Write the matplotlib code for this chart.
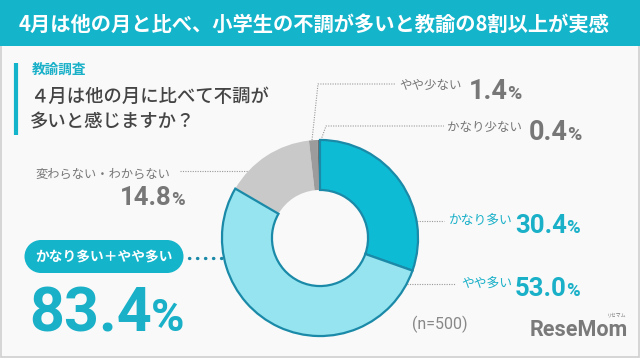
import matplotlib
matplotlib.use("Agg")
import matplotlib.pyplot as plt
import matplotlib.patches as patches

plt.rcParams['font.family'] = ['Noto Sans CJK JP', 'DejaVu Sans']

# 데이터
labels = ['かなり多い', 'やや多い', '変わらない・わからない', 'やや少ない', 'かなり少ない']
values = [30.4, 53.0, 14.8, 1.4, 0.4]
colors = ['#0dbcd4', '#95e4f0', '#c9c9c9', '#9c9c9c', '#6f6f6f']
highlight = [True, True, False, False, False]
n_total = 500

title = '4月は他の月と比べ、小学生の不調が多いと教諭の8割以上が実感'
survey = '教諭調査'
question = ['４月は他の月に比べて不調が', '多いと感じますか？']
pill_text = 'かなり多い＋やや多い'

CYAN = '#14b4cb'
CYAN_TEXT = '#19b0c8'
EDGE = '#1a8aa8'
GRAY_TEXT = '#777777'
NUM_FONT = ['Roboto']
W, H = 640, 358


def num_pct(ax, renderer, x, y, num, size, color, pct_ratio=0.72):
    # 숫자 + 작은 % 기호 (baseline 맞춤)
    t = ax.text(x, y, num, fontsize=size, color=color, fontweight='bold',
                family=NUM_FONT, ha='left', va='baseline')
    bb = t.get_window_extent(renderer)
    x_end = ax.transData.inverted().transform((bb.x1, bb.y0))[0]
    ax.text(x_end - size * 0.03, y, '%', fontsize=size * pct_ratio, color=color,
            fontweight='bold', family=NUM_FONT, ha='left', va='baseline')


def dotted(ax, xs, ys, color='#999999'):
    ax.plot(xs, ys, color=color, linewidth=0.8, linestyle=(0, (1, 1.2)))


def main():
    fig = plt.figure(figsize=(W / 100, H / 100), dpi=100)
    fig.patch.set_facecolor('#f9f9f9')
    ax = fig.add_axes([0, 0, 1, 1])
    ax.set_xlim(0, W)
    ax.set_ylim(H, 0)
    ax.axis('off')
    renderer = fig.canvas.get_renderer()

    # 테두리 + 타이틀 바
    ax.add_patch(patches.Rectangle((0.5, 0.5), W - 1.5, H - 1.5, facecolor='none',
                                   edgecolor='#cfcfcf', linewidth=1.2))
    ax.add_patch(patches.Rectangle((0, 0), W, 46, facecolor=CYAN, edgecolor='none'))
    ax.text(19, 24, title, fontsize=14.6, color='white', fontweight='bold',
            ha='left', va='center')

    # 질문 영역
    ax.plot([16, 16], [63, 135], color=CYAN, linewidth=3, solid_capstyle='butt')
    ax.text(32, 70, survey, fontsize=9.8, color=CYAN_TEXT, fontweight='bold',
            ha='left', va='center')
    ax.text(30, 97, question[0], fontsize=13.2, color='#444444', fontweight='medium',
            ha='left', va='center')
    ax.text(30, 122, question[1], fontsize=13.2, color='#444444', fontweight='medium',
            ha='left', va='center')

    # 도넛 차트
    cx, cy, r = 320, 238, 100
    pax = fig.add_axes([(cx - r) / W, (H - cy - r) / H, 2 * r / W, 2 * r / H])
    wedges, _ = pax.pie(values, colors=colors, startangle=90, counterclock=False,
                        radius=1.0, wedgeprops=dict(width=0.51, linewidth=0))
    for w, hl in zip(wedges, highlight):
        if hl:
            w.set_edgecolor(EDGE)
            w.set_linewidth(1.6)
            w.set_zorder(3)
    pax.set_xlim(-1.02, 1.02)
    pax.set_ylim(-1.02, 1.02)
    pax.set_aspect('equal')
    pax.axis('off')

    # 変わらない・わからない
    ax.text(35, 174, labels[2], fontsize=8.8, color=GRAY_TEXT, ha='left', va='center')
    dotted(ax, [180, 262], [171, 171])
    num_pct(ax, renderer, 120, 205, f'{values[2]:.1f}', 18.5, GRAY_TEXT)

    # やや少ない / かなり少ない
    dotted(ax, [312, 318, 396], [140, 84, 84])
    ax.text(462, 85, labels[3], fontsize=9, color=GRAY_TEXT, ha='right', va='center')
    num_pct(ax, renderer, 469, 99, f'{values[3]:.1f}', 19.5, GRAY_TEXT)

    dotted(ax, [321, 326, 444], [140, 126, 126])
    ax.text(522, 127, labels[4], fontsize=9, color=GRAY_TEXT, ha='right', va='center')
    num_pct(ax, renderer, 529, 140, f'{values[4]:.1f}', 19.5, GRAY_TEXT)

    # かなり多い / やや多い
    dotted(ax, [385, 444], [221, 221])
    ax.text(512, 221, labels[0], fontsize=9.2, color=CYAN_TEXT, ha='right', va='center')
    num_pct(ax, renderer, 515, 233, f'{values[0]:.1f}', 18.5, CYAN_TEXT)

    dotted(ax, [385, 455], [284, 284])
    ax.text(512, 284, labels[1], fontsize=9.2, color=CYAN_TEXT, ha='right', va='center')
    num_pct(ax, renderer, 515, 296, f'{values[1]:.1f}', 18.5, CYAN_TEXT)

    # 합계 pill
    ax.add_patch(patches.Rectangle((41, 240), 126, 33, facecolor=CYAN, edgecolor='none'))
    ax.add_patch(patches.Ellipse((41, 256.5), 33, 33, facecolor=CYAN, edgecolor='none'))
    ax.add_patch(patches.Ellipse((167, 256.5), 33, 33, facecolor=CYAN, edgecolor='none'))
    ax.text(104, 256.5, pill_text, fontsize=9.9, color='white', fontweight='bold',
            ha='center', va='center')
    ax.plot([189, 222], [258, 258], color=EDGE, linewidth=2.4,
            linestyle=(0, (0.1, 2.3)), dash_capstyle='round')
    total = sum(v for v, hl in zip(values, highlight) if hl)
    num_pct(ax, renderer, 29, 331, f'{total:.1f}', 44, CYAN_TEXT, pct_ratio=0.74)

    # n 표기 + 로고
    ax.text(412, 324, f'(n={n_total})', fontsize=11.5, color='#888888',
            family=NUM_FONT, ha='left', va='center')
    ax.text(530, 336, 'ReseMom', fontsize=15.5, color='#7a7a7a', fontweight='bold',
            family=NUM_FONT, ha='left', va='baseline')
    ax.text(617, 315, 'リセマム', fontsize=3.5, color='#7a7a7a', ha='center', va='center')

    fig.savefig('out.png', dpi=100, facecolor=fig.get_facecolor())
    plt.close(fig)


if __name__ == "__main__":
    main()
